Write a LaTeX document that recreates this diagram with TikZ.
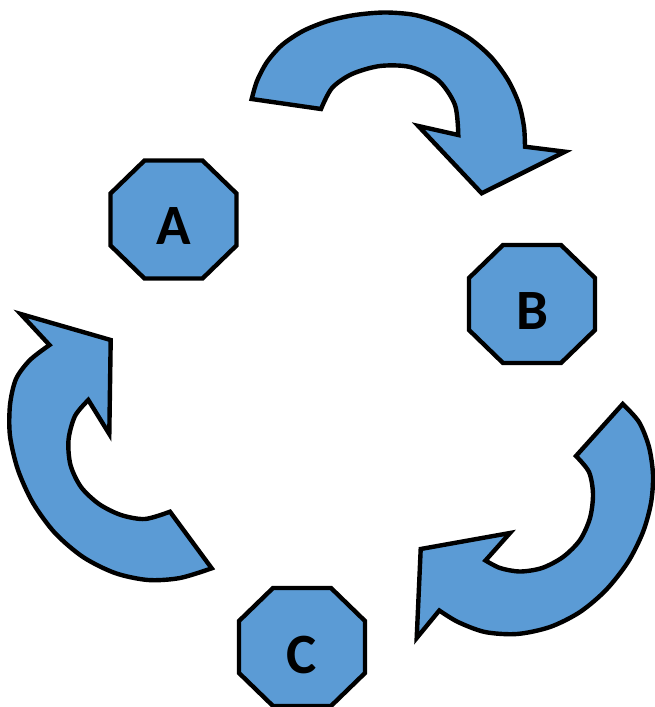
\documentclass[tikz,border=0pt]{standalone}
\usepackage{fontspec}
\setmainfont{Carlito}
\definecolor{shapeblue}{HTML}{5B9BD5}
\begin{document}
\begin{tikzpicture}[x=1pt,y=-1pt,
  shapestyle/.style={fill=shapeblue,draw=black,line width=4.4pt,line join=miter,miter limit=10},
  letter/.style={inner sep=0pt,font=\bfseries\fontsize{57}{62}\selectfont}]
\useasboundingbox (0,0) rectangle (654,707);
% octagons
\draw[shapestyle,shift={(173.5,219.5)}] (-29,-59) -- (29,-59) -- (63,-26) -- (63,26) -- (29,59) -- (-29,59) -- (-63,26) -- (-63,-26) -- cycle;
\draw[shapestyle,shift={(532,304)}] (-29,-59) -- (29,-59) -- (63,-26) -- (63,26) -- (29,59) -- (-29,59) -- (-63,26) -- (-63,-26) -- cycle;
\draw[shapestyle,shift={(302,647)}] (-29,-59) -- (29,-59) -- (63,-26) -- (63,26) -- (29,59) -- (-29,59) -- (-63,26) -- (-63,-26) -- cycle;
\node[letter] (A) at (173.5,226.5) {A};
\node[letter] (B) at (532,311) {B};
\node[letter] (C) at (302,655) {C};
% top arrow
\draw[shapestyle] plot[smooth] coordinates {(251.7,99) (257,81) (267,62) (282,45) (303,31) (328,21) (355,15) (385,12.5) (415,15) (443,24) (469,38) (491,57) (508,80) (519,104) (524,127) (525,146.7)}
  -- (565,151.7) -- (481.7,193.3) -- (418.3,126)
  -- plot[smooth] coordinates {(458.3,135) (455,105) (438,80) (410,67) (380,66) (352,74) (332,88) (321,109)} -- cycle;
% left arrow
\draw[shapestyle] plot[smooth] coordinates {(211.7,568.3) (180,578) (148,580) (115,573) (83,557) (55,533) (33,503) (18,470) (10,436) (10,405) (16,379) (30,360) (49.5,345)}
  -- (20.7,314) -- (110.7,340) -- (109.3,434)
  -- plot[smooth] coordinates {(88.3,400) (75,416) (68.5,440) (70.5,465) (81,487) (99,504) (121,515) (145,519) (170,511.7)} -- cycle;
% right arrow
\draw[shapestyle] plot[smooth] coordinates {(622.7,404) (639,422) (649,447) (653,475) (651,503) (643,532) (628,562) (606,590) (580,612) (550,627) (517,634) (485,632) (458,622) (439.3,610.5)}
  -- (416.7,638) -- (420.7,549) -- (510,533)
  -- plot[smooth] coordinates {(485.5,560.5) (500,568) (520,571.5) (542,568) (563,557) (580,540) (590,518) (593,494) (589,472) (576,456)} -- cycle;
\end{tikzpicture}
\end{document}
